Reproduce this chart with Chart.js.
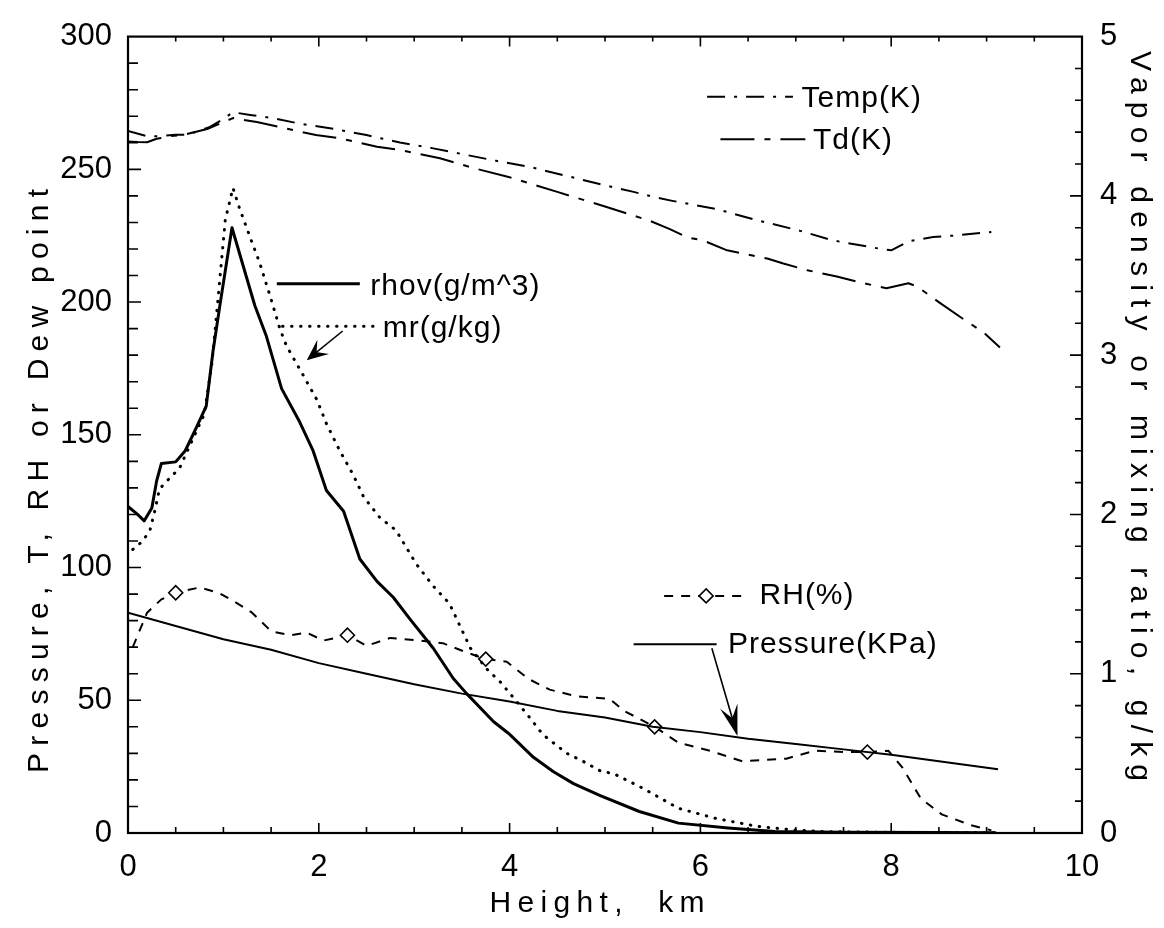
<!DOCTYPE html>
<html>
<head>
<meta charset="utf-8">
<script src="https://cdn.jsdelivr.net/npm/chart.js@4.4.1/dist/chart.umd.min.js"></script>
<style>
  html, body { margin: 0; padding: 0; background: #fff; }
  #wrap { width: 1164px; height: 928px; }
</style>
</head>
<body>
<div id="wrap"><canvas id="c" width="1164" height="928"></canvas></div>
<script>
// ---- Sounding profile: height (km) against temperature, humidity and pressure ----

// Air temperature, K (left axis)
const tempHeight = [0, 0.2, 0.33, 0.5, 0.61, 0.75, 0.86, 1.0, 1.1, 1.28, 1.52, 1.8, 2.15, 2.5, 2.85, 3.2, 3.55, 3.86, 4.2, 4.6, 5.0, 5.3, 5.52, 5.68, 6.17, 6.62, 7.04, 7.39, 7.88, 8.0, 8.19, 8.44, 8.68, 9.05];
const tempK = [264.5, 262.5, 262.5, 263, 263, 264.5, 266, 269, 271.5, 270.5, 269.3, 267.2, 265.3, 262.9, 260.1, 257.9, 255.4, 253.2, 251, 247.5, 244, 241.5, 239.5, 238.3, 235, 230.6, 226.9, 223.2, 220.1, 219.5, 223, 224.5, 225.1, 226.4];

// Dew point, K (left axis)
const tdHeight = [0, 0.1, 0.2, 0.3, 0.45, 0.58, 0.83, 1.1, 1.35, 1.73, 1.97, 2.22, 2.61, 2.85, 3.27, 3.62, 4.0, 4.5, 5.0, 5.47, 5.68, 5.86, 6.03, 6.28, 6.7, 6.87, 7.12, 7.43, 7.71, 7.95, 8.18, 8.27, 8.51, 8.76, 8.97, 9.14];
const tdK = [260.5, 260.3, 260.2, 261.5, 262.5, 263, 265.2, 269.3, 267.8, 264.8, 262.9, 261.7, 258.5, 257.3, 254.2, 250.5, 247, 241.5, 236, 230.6, 227.5, 224.4, 223.2, 219.5, 216.4, 214.5, 212, 209.6, 207.1, 205.2, 207.1, 205.9, 199.7, 193.5, 188.5, 182.9];

// Vapor density, g/m^3 (right axis)
const rhovHeight = [0, 0.1, 0.17, 0.25, 0.3, 0.35, 0.5, 0.6, 0.72, 0.82, 0.89, 0.96, 1.09, 1.33, 1.45, 1.61, 1.8, 1.94, 2.08, 2.26, 2.43, 2.61, 2.78, 2.96, 3.2, 3.41, 3.55, 3.83, 3.99, 4.25, 4.46, 4.67, 4.95, 5.36, 5.77, 6.29, 6.78, 7.5, 8.5, 9.1];
const rhov = [2.05, 2.0, 1.96, 2.04, 2.21, 2.32, 2.33, 2.4, 2.55, 2.68, 3.02, 3.3, 3.8, 3.31, 3.12, 2.79, 2.58, 2.4, 2.15, 2.02, 1.72, 1.58, 1.48, 1.34, 1.16, 0.97, 0.875, 0.70, 0.625, 0.475, 0.385, 0.31, 0.235, 0.135, 0.062, 0.032, 0.01, 0.005, 0.003, 0.002];

// Mixing ratio, g/kg (right axis)
const mrHeight = [0.05, 0.15, 0.23, 0.28, 0.33, 0.44, 0.54, 0.6, 0.7, 0.8, 0.88, 0.94, 1.02, 1.1, 1.17, 1.28, 1.38, 1.49, 1.59, 1.66, 1.84, 1.98, 2.08, 2.22, 2.36, 2.47, 2.64, 2.81, 3.02, 3.2, 3.37, 3.48, 3.59, 3.76, 3.9, 4.04, 4.21, 4.35, 4.6, 4.77, 4.95, 5.1, 5.4, 5.77, 6.15, 6.59, 6.96, 7.34, 8.0, 9.1];
const mr = [1.78, 1.83, 1.9, 2.02, 2.16, 2.23, 2.29, 2.37, 2.5, 2.63, 2.95, 3.33, 3.85, 4.05, 3.92, 3.74, 3.58, 3.37, 3.17, 3.06, 2.87, 2.72, 2.57, 2.4, 2.25, 2.11, 1.98, 1.9, 1.69, 1.55, 1.44, 1.3, 1.16, 1.03, 0.95, 0.85, 0.725, 0.617, 0.5, 0.45, 0.39, 0.37, 0.28, 0.155, 0.093, 0.042, 0.02, 0.008, 0.004, 0.002];

// Relative humidity, % (left axis) and the heights that carry a diamond marker
const rhHeight = [0.05, 0.2, 0.35, 0.5, 0.75, 0.95, 1.1, 1.3, 1.5, 1.7, 1.87, 2.05, 2.3, 2.5, 2.75, 3.05, 3.3, 3.55, 3.75, 3.97, 4.2, 4.42, 4.7, 5.05, 5.2, 5.52, 5.77, 6.1, 6.44, 6.9, 7.2, 7.5, 7.75, 7.97, 8.12, 8.31, 8.53, 8.83, 9.05];
const rhPct = [70, 83, 88, 90.5, 92.5, 90.5, 87.5, 83, 76, 74.5, 75.5, 72.5, 74.5, 70.5, 73.5, 72.5, 71.5, 68, 65.5, 64.5, 58, 54, 51.5, 50.5, 46, 40, 34, 31, 27, 28, 31, 30.5, 30.5, 31, 24.5, 13, 7, 3, 1];
const rhMarkerHeights = [0.5, 2.3, 3.75, 5.52, 7.75];

// Pressure, kPa (left axis)
const pressureHeight = [0, 0.5, 1, 1.5, 2, 2.5, 3, 3.5, 4, 4.5, 5, 5.5, 6, 6.5, 7, 7.5, 8, 8.5, 9.12];
const pressureKPa = [83, 78, 73, 69, 64, 60, 56, 52.5, 49.5, 46, 43.5, 40, 38, 35.5, 33.5, 31.5, 29.5, 27, 24];

// Axis ranges and labelled ticks
const heightTicks = [0, 2, 4, 6, 8, 10];
const leftTicks = [0, 50, 100, 150, 200, 250, 300];
const rightTicks = [0, 1, 2, 3, 4, 5];

// Series captions
const labels = {
  temp: 'Temp(K)', td: 'Td(K)', rhov: 'rhov(g/m^3)', mr: 'mr(g/kg)', rh: 'RH(%)', p: 'Pressure(KPa)'
};

const FONT = '"Liberation Sans", Arial, sans-serif';
const pairs = (xs, ys) => xs.map((h, i) => ({ x: h, y: ys[i] }));

const DASH = {
  temp: [18, 9, 3, 9],
  td: [34, 10, 6, 10],
  rh: [9, 8],
  mr: [0.5, 8.5]
};

// Frame plus inward-pointing tick marks on all four sides
const frameTicks = {
  id: 'frameTicks',
  afterDatasetsDraw(chart) {
    const { ctx, chartArea: a, scales: { x, y, y1 } } = chart;
    ctx.save();
    ctx.strokeStyle = '#000';
    ctx.lineWidth = 2.2;
    ctx.strokeRect(a.left, a.top, a.right - a.left, a.bottom - a.top);
    ctx.lineWidth = 1.6;
    ctx.beginPath();
    for (let k = 1; k < 20; k++) {
      const px = x.getPixelForValue(k * 0.5);
      const major = k % 4 === 0;
      ctx.moveTo(px, a.bottom); ctx.lineTo(px, a.bottom - (major ? 10 : 6));
      ctx.moveTo(px, a.top); ctx.lineTo(px, a.top + (major ? 10 : 5));
    }
    for (let k = 1; k < 30; k++) {
      const py = y.getPixelForValue(k * 10);
      const major = k % 5 === 0;
      ctx.moveTo(a.left, py); ctx.lineTo(a.left + (major ? 13 : 10), py);
    }
    for (let k = 1; k < 25; k++) {
      const py = y1.getPixelForValue(k * 0.2);
      const major = k % 5 === 0;
      ctx.moveTo(a.right, py); ctx.lineTo(a.right - (major ? 12 : 7), py);
    }
    ctx.stroke();
    ctx.restore();
  }
};

// Axis titles, in-plot captions with line samples, and pointer arrows
const annotations = {
  id: 'annotations',
  afterDraw(chart) {
    const { ctx, scales: { x, y } } = chart;
    const P = (xv, yv) => [x.getPixelForValue(xv), y.getPixelForValue(yv)];

    const sample = (x0, x1, yv, dash, width) => {
      const [a, py] = P(x0, yv);
      const [b] = P(x1, yv);
      ctx.save();
      ctx.strokeStyle = '#000';
      ctx.lineWidth = width;
      ctx.setLineDash(dash);
      if (dash === DASH.mr) ctx.lineCap = 'round';
      ctx.beginPath(); ctx.moveTo(a, py); ctx.lineTo(b, py); ctx.stroke();
      ctx.restore();
    };
    const caption = (text, xv, yv) => {
      const [px, py] = P(xv, yv);
      ctx.save();
      ctx.fillStyle = '#000';
      ctx.font = '30px ' + FONT;
      ctx.letterSpacing = '1px';
      ctx.textAlign = 'left';
      ctx.textBaseline = 'middle';
      ctx.fillText(text, px, py);
      ctx.restore();
    };
    const arrow = (x0, y0, x1, y1, len, half, filled) => {
      const [ax, ay] = P(x0, y0);
      const [bx, by] = P(x1, y1);
      const ang = Math.atan2(by - ay, bx - ax);
      ctx.save();
      ctx.strokeStyle = '#000'; ctx.fillStyle = '#000';
      ctx.lineWidth = 1.6;
      ctx.beginPath(); ctx.moveTo(ax, ay); ctx.lineTo(bx, by); ctx.stroke();
      const lx = bx - len * Math.cos(ang) + half * Math.sin(ang);
      const ly = by - len * Math.sin(ang) - half * Math.cos(ang);
      const rx = bx - len * Math.cos(ang) - half * Math.sin(ang);
      const ry = by - len * Math.sin(ang) + half * Math.cos(ang);
      const mx = bx - len * 0.6 * Math.cos(ang);
      const my = by - len * 0.6 * Math.sin(ang);
      ctx.beginPath();
      ctx.moveTo(lx, ly); ctx.lineTo(bx, by); ctx.lineTo(rx, ry);
      if (filled) { ctx.lineTo(mx, my); ctx.closePath(); ctx.fill(); }
      ctx.stroke();
      ctx.restore();
    };

    // Temperature and dew point captions
    sample(6.07, 6.97, 277.3, DASH.temp, 2);
    caption(labels.temp, 7.06, 276.6);
    sample(6.21, 7.10, 261.3, DASH.td, 2);
    caption(labels.td, 7.18, 260.9);

    // Vapor density and mixing ratio captions
    sample(1.56, 2.43, 206.9, [], 3);
    caption(labels.rhov, 2.54, 205.8);
    sample(1.62, 2.57, 190.9, DASH.mr, 3);
    caption(labels.mr, 2.67, 189.8);
    arrow(2.25, 189.1, 1.89, 178.6, 16, 7, true);

    // Relative humidity caption with its diamond
    sample(5.62, 6.51, 89.3, DASH.rh, 2);
    {
      const [dx, dy] = P(6.06, 89.3);
      ctx.save();
      ctx.fillStyle = '#fff'; ctx.strokeStyle = '#000'; ctx.lineWidth = 1.6;
      ctx.beginPath();
      ctx.moveTo(dx, dy - 7); ctx.lineTo(dx + 7, dy); ctx.lineTo(dx, dy + 7); ctx.lineTo(dx - 7, dy);
      ctx.closePath(); ctx.fill(); ctx.stroke();
      ctx.restore();
    }
    caption(labels.rh, 6.62, 89.3);

    // Pressure caption and pointer
    sample(5.30, 6.17, 71.1, [], 2);
    caption(labels.p, 6.29, 70.8);
    arrow(6.12, 69.6, 6.38, 37.6, 24, 7, true);

    // Axis titles, spread to a fixed overall length
    const title = (text, cx, cy, rot, span) => {
      ctx.save();
      ctx.translate(cx, cy);
      ctx.rotate(rot);
      ctx.fillStyle = '#000';
      ctx.font = '30px ' + FONT;
      ctx.letterSpacing = '0px';
      const natural = ctx.measureText(text).width;
      const spacing = Math.max(0, (span - natural) / (text.length - 1));
      ctx.letterSpacing = spacing.toFixed(2) + 'px';
      ctx.textAlign = 'center';
      ctx.textBaseline = 'middle';
      ctx.fillText(text, spacing / 2, 0);
      ctx.restore();
    };
    title('Height,  km', 597, 904, 0, 215);
    title('Pressure, T, RH or Dew point', 40, 481, -Math.PI / 2, 584);
    title('Vapor density or mixing ratio, g/kg', 1139, 416, Math.PI / 2, 730);
  }
};

const lineBase = { borderColor: '#000', backgroundColor: '#000', pointRadius: 0, fill: false, tension: 0, borderJoinStyle: 'round' };

new Chart(document.getElementById('c'), {
  type: 'line',
  data: {
    datasets: [
      { ...lineBase, label: labels.temp, data: pairs(tempHeight, tempK), yAxisID: 'y', borderWidth: 2, borderDash: DASH.temp },
      { ...lineBase, label: labels.td, data: pairs(tdHeight, tdK), yAxisID: 'y', borderWidth: 2, borderDash: DASH.td },
      { ...lineBase, label: labels.rhov, data: pairs(rhovHeight, rhov), yAxisID: 'y1', borderWidth: 3 },
      { ...lineBase, label: labels.mr, data: pairs(mrHeight, mr), yAxisID: 'y1', borderWidth: 3, borderDash: DASH.mr, borderCapStyle: 'round' },
      { ...lineBase, label: labels.p, data: pairs(pressureHeight, pressureKPa), yAxisID: 'y', borderWidth: 2 },
      {
        ...lineBase, label: labels.rh, data: pairs(rhHeight, rhPct), yAxisID: 'y', borderWidth: 2, borderDash: DASH.rh,
        pointStyle: 'rectRot',
        pointRadius: c => (c.raw && rhMarkerHeights.includes(c.raw.x)) ? 7 : 0,
        pointBackgroundColor: '#fff', pointBorderColor: '#000', pointBorderWidth: 1.6
      }
    ]
  },
  options: {
    responsive: false,
    devicePixelRatio: 1,
    animation: false,
    events: [],
    layout: { padding: { top: 26, left: 0, right: 0, bottom: 0 } },
    plugins: { legend: { display: false }, tooltip: { enabled: false }, title: { display: false } },
    scales: {
      x: {
        type: 'linear', min: 0, max: 10,
        grid: { display: false, drawTicks: false }, border: { display: false },
        afterBuildTicks: s => { s.ticks = heightTicks.map(v => ({ value: v })); },
        afterFit: s => { s.height = 95; },
        ticks: { color: '#000', font: { family: FONT, size: 31 }, padding: 16, maxRotation: 0 }
      },
      y: {
        type: 'linear', position: 'left', min: 0, max: 300,
        grid: { display: false, drawTicks: false }, border: { display: false },
        afterBuildTicks: s => { s.ticks = leftTicks.map(v => ({ value: v })); },
        afterFit: s => { s.width = 128; },
        ticks: { color: '#000', font: { family: FONT, size: 31 }, padding: 16 }
      },
      y1: {
        type: 'linear', position: 'right', min: 0, max: 5,
        grid: { display: false, drawTicks: false }, border: { display: false },
        afterBuildTicks: s => { s.ticks = rightTicks.map(v => ({ value: v })); },
        afterFit: s => { s.width = 82; },
        ticks: { color: '#000', font: { family: FONT, size: 31 }, padding: 18 }
      }
    }
  },
  plugins: [frameTicks, annotations]
});
</script>
</body>
</html>
